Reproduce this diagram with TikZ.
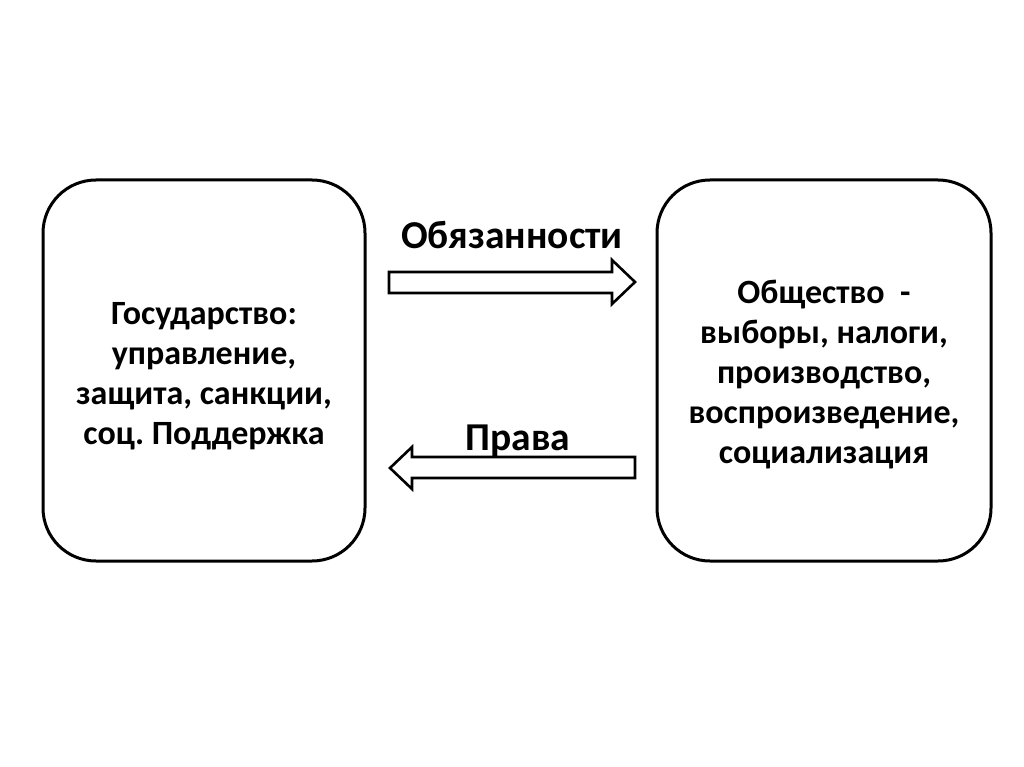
\documentclass[tikz,border=0pt]{standalone}
\usepackage{fontspec}
\setmainfont{Carlito}
\frenchspacing
\begin{document}
\begin{tikzpicture}[x=1pt,y=-1pt,
  roundbox/.style={draw=black,line width=3pt,rounded corners=53pt},
  boxtext/.style={align=center,font=\bfseries\fontsize{34}{40}\selectfont,inner sep=0pt},
  lbl/.style={anchor=base,font=\bfseries\fontsize{39.5}{42}\selectfont,inner sep=0pt},
  blockarrow/.style={draw=black,line width=2.6pt,fill=white,line join=miter}]
\useasboundingbox (0,0) rectangle (1024,767);
\fill[white] (0,0) rectangle (1024,767);
\draw[roundbox] (43,180) rectangle (365,561);
\draw[roundbox] (657,180) rectangle (991,561);
\node[boxtext] (gos) at (204,376) {Государство:\\управление,\\защита, санкции,\\соц. Поддержка};
\node[boxtext] (obs) at (824,375) {Общество~~-\\выборы, налоги,\\производство,\\воспроизведение,\\социализация};
\node[lbl] (obl) at (512,248) {Обязанности};
\node[lbl] (prl) at (518,450) {Права};
\draw[blockarrow] (389,272) -- (612,272) -- (612,260) -- (635,282) -- (612,304) -- (612,293) -- (389,293) -- cycle;
\draw[blockarrow] (635,457) -- (412,457) -- (412,447) -- (390,468) -- (412,489) -- (412,478) -- (635,478) -- cycle;
\end{tikzpicture}
\end{document}
